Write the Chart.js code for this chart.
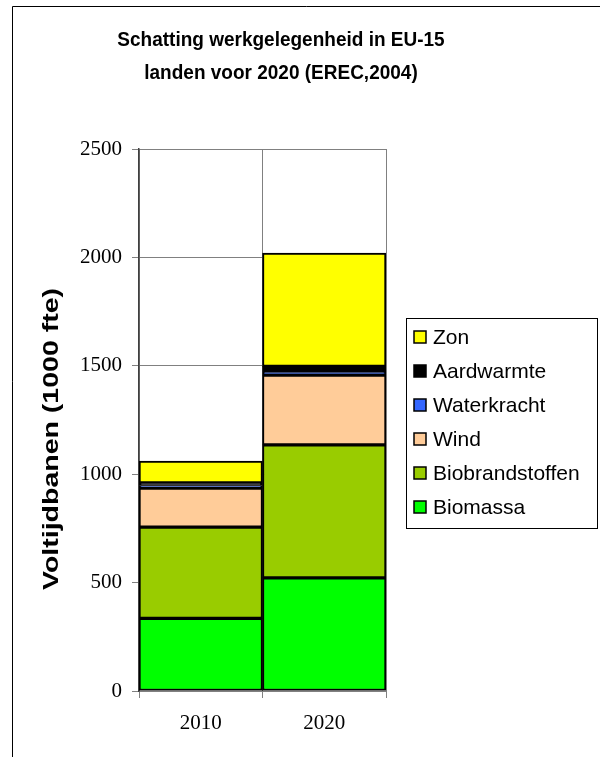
<!DOCTYPE html>
<html>
<head>
<meta charset="utf-8">
<script src="https://cdn.jsdelivr.net/npm/chart.js@4"></script>
<style>
  html, body { margin: 0; padding: 0; background: #fff; }
  #wrap { width: 600px; height: 757px; }
</style>
</head>
<body>
<div id="wrap"><canvas id="chart" width="600" height="757"></canvas></div>
<script>
const categories = ['2010', '2020'];
const seriesNames = ['Biomassa', 'Biobrandstoffen', 'Wind', 'Waterkracht', 'Aardwarmte', 'Zon'];
const biomassa = [335, 522];
const biobrandstoffen = [421, 613];
const wind = [180, 322];
const waterkracht = [12, 19];
const aardwarmte = [12, 21];
const zon = [101, 523];
const seriesColors = ['#00FF00', '#99CC00', '#FFCC99', '#3366FF', '#000000', '#FFFF00'];
const titleLines = ['Schatting werkgelegenheid in EU-15', 'landen voor 2020 (EREC,2004)'];
const yTitle = 'Voltijdbanen (1000 fte)';

const seriesValues = [biomassa, biobrandstoffen, wind, waterkracht, aardwarmte, zon];

// frame, titles and boxed legend like the Excel original
const decorPlugin = {
    id: 'decor',
    beforeDraw(chart) {
        const ctx = chart.ctx;
        ctx.save();
        ctx.fillStyle = '#fff';
        ctx.fillRect(0, 0, chart.width, chart.height);
        ctx.strokeStyle = '#000';
        ctx.lineWidth = 1;
        ctx.beginPath();
        ctx.moveTo(12.5, chart.height);
        ctx.lineTo(12.5, 6.5);
        ctx.lineTo(chart.width, 6.5);
        ctx.stroke();
        ctx.restore();
    },
    afterDraw(chart) {
        const ctx = chart.ctx;
        ctx.save();
        ctx.fillStyle = '#000';
        ctx.font = 'bold 20px "Liberation Sans", Arial, sans-serif';
        ctx.textAlign = 'center';
        ctx.textBaseline = 'middle';
        titleLines.forEach((line, i) => {
            ctx.save();
            ctx.translate(281, 40 + i * 33);
            ctx.scale(0.95, 1.05);
            ctx.fillText(line, 0, 0);
            ctx.restore();
        });

        // y axis title, stretched along its length as in the picture
        ctx.save();
        ctx.font = 'bold 22px "Liberation Sans", Arial, sans-serif';
        const w = ctx.measureText(yTitle).width;
        ctx.translate(52, 439);
        ctx.rotate(-Math.PI / 2);
        ctx.scale(302 / w, 1);
        ctx.fillText(yTitle, 0, 0);
        ctx.restore();

        // legend box
        ctx.strokeStyle = '#000';
        ctx.lineWidth = 1;
        ctx.strokeRect(406.5, 318.5, 191, 210);
        ctx.font = '21px "Liberation Sans", Arial, sans-serif';
        ctx.textAlign = 'left';
        const items = chart.data.datasets.slice().reverse();
        items.forEach((ds, i) => {
            const y = 337 + i * 34;
            ctx.fillStyle = ds.backgroundColor;
            ctx.fillRect(414, y - 6, 12, 12);
            ctx.lineWidth = 1.5;
            ctx.strokeRect(414, y - 6, 12, 12);
            ctx.fillStyle = '#000';
            ctx.fillText(ds.label, 433, y + 1);
        });
        ctx.restore();
    }
};

const ctx = document.getElementById('chart').getContext('2d');
new Chart(ctx, {
    type: 'bar',
    data: {
        labels: categories,
        datasets: seriesNames.map((name, i) => ({
            label: name,
            data: seriesValues[i],
            backgroundColor: seriesColors[i],
            borderColor: '#000',
            borderWidth: 2,
            borderSkipped: false,
            barPercentage: 1,
            categoryPercentage: 1
        }))
    },
    options: {
        responsive: false,
        animation: false,
        devicePixelRatio: 1,
        layout: { padding: { top: 149, right: 214, left: 18, bottom: 0 } },
        plugins: {
            legend: { display: false },
            title: { display: false },
            tooltip: { enabled: false }
        },
        scales: {
            x: {
                stacked: true,
                grid: {
                    color: '#808080',
                    offset: true,
                    tickLength: 7,
                    lineWidth: 1
                },
                border: { color: '#808080' },
                ticks: {
                    color: '#000',
                    padding: 13,
                    font: { family: '"Liberation Serif", "Times New Roman", serif', size: 21 }
                },
                afterFit(scale) { scale.height = 66; }
            },
            y: {
                stacked: true,
                min: 0,
                max: 2500,
                ticks: {
                    stepSize: 500,
                    color: '#000',
                    padding: 10,
                    callback: v => String(v),
                    font: { family: '"Liberation Serif", "Times New Roman", serif', size: 21 }
                },
                grid: {
                    color: '#808080',
                    tickLength: 7,
                    lineWidth: 1
                },
                border: { color: '#404040', width: 1.5 },
                afterFit(scale) { scale.width = 121; }
            }
        }
    },
    plugins: [decorPlugin]
});
</script>
</body>
</html>
